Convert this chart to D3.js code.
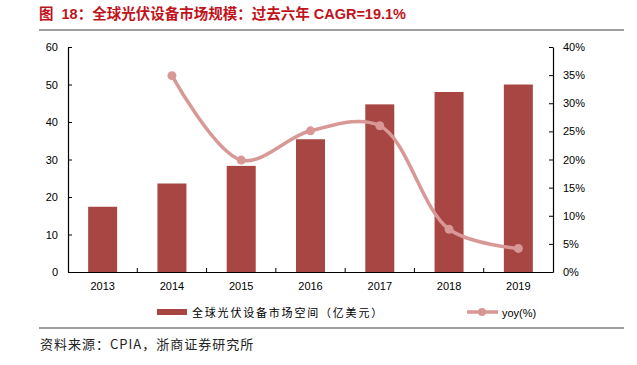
<!DOCTYPE html>
<html>
<head>
<meta charset="utf-8">
<script src="https://cdn.jsdelivr.net/npm/d3@7"></script>
<style>
  body { margin: 0; background: #fff; }
  text { font-family: "Liberation Sans", Arial, sans-serif; }
</style>
</head>
<body>
<div id="chart"></div>
<script>
const years = ["2013", "2014", "2015", "2016", "2017", "2018", "2019"];
const marketSize = [17.4, 23.6, 28.3, 35.4, 44.7, 48.0, 50.0];
const yoy = [null, 34.9, 19.9, 25.1, 26.0, 7.6, 4.2];
const leftTicks = [0, 10, 20, 30, 40, 50, 60];
const rightTicks = [0, 5, 10, 15, 20, 25, 30, 35, 40];

const svgWidth = 637, svgHeight = 365;
const margin = { top: 47, right: 84, bottom: 93, left: 68 };
const width = svgWidth - margin.left - margin.right;
const height = svgHeight - margin.top - margin.bottom;

const svg = d3.select("#chart").append("svg")
  .attr("width", svgWidth)
  .attr("height", svgHeight);

// title
svg.append("text")
  .attr("x", 39).attr("y", 19)
  .attr("fill", "#c0141c")
  .attr("font-size", 14.5)
  .attr("font-weight", "bold")
  .attr("xml:space", "preserve")
  .style("font-family", "'Liberation Sans', 'Noto Sans CJK SC', sans-serif")
  .style("white-space", "pre")
  .text("图  18：全球光伏设备市场规模：过去六年 CAGR=19.1%");

svg.append("line")
  .attr("x1", 39).attr("x2", 624).attr("y1", 30).attr("y2", 30)
  .attr("stroke", "#7f7f7f").attr("stroke-width", 1.5);

svg.append("line")
  .attr("x1", 39).attr("x2", 624).attr("y1", 328).attr("y2", 328)
  .attr("stroke", "#7f7f7f").attr("stroke-width", 1.5);

svg.append("text")
  .attr("x", 40).attr("y", 349)
  .attr("font-size", 13)
  .attr("fill", "#222")
  .attr("letter-spacing", 1)
  .style("font-family", "'Noto Sans CJK SC', sans-serif")
  .text("资料来源：CPIA，浙商证券研究所");

const chartGroup = svg.append("g")
  .attr("transform", `translate(${margin.left}, ${margin.top})`);

const xPoint = d3.scaleBand().domain(years).range([0, width]);
const yLeft = d3.scaleLinear().domain([0, 60]).range([height, 0]);
const yRight = d3.scaleLinear().domain([0, 40]).range([height, 0]);

// bars
chartGroup.selectAll("rect.bar")
  .data(marketSize)
  .enter()
  .append("rect")
  .attr("class", "bar")
  .attr("x", (d, i) => xPoint(years[i]) + xPoint.bandwidth() / 2 - 14.5)
  .attr("width", 29)
  .attr("y", d => yLeft(d))
  .attr("height", d => height - yLeft(d))
  .attr("fill", "#a84644");

// axes
const leftAxis = d3.axisLeft(yLeft).tickValues(leftTicks).tickSizeInner(-4).tickSizeOuter(0).tickPadding(10);
const rightAxis = d3.axisRight(yRight).tickValues(rightTicks).tickFormat(d => d + "%")
  .tickSizeInner(-4).tickSizeOuter(0).tickPadding(10);

const gl = chartGroup.append("g").call(leftAxis);
const gr = chartGroup.append("g").attr("transform", `translate(${width},0)`).call(rightAxis);

const gx = chartGroup.append("g").attr("transform", `translate(0,${height})`)
  .call(d3.axisBottom(xPoint).tickSize(0).tickPadding(10));

// inner tick marks between categories
chartGroup.selectAll("line.xtick")
  .data(years.slice(1))
  .enter()
  .append("line")
  .attr("class", "xtick")
  .attr("x1", d => xPoint(d)).attr("x2", d => xPoint(d))
  .attr("y1", height).attr("y2", height - 4)
  .attr("stroke", "#000");

[gl, gr, gx].forEach(g => {
  g.selectAll("path.domain").attr("stroke", "#000").attr("stroke-width", 1.2);
  g.selectAll("line").attr("stroke", "#000");
  g.selectAll("text").attr("font-size", 11).attr("fill", "#000")
    .style("font-family", "'Liberation Sans', Arial, sans-serif");
});

// yoy line
const yoyData = years.map((yr, i) => ({ yr, v: yoy[i] })).filter(d => d.v !== null);
const cx = d => xPoint(d.yr) + xPoint.bandwidth() / 2;

chartGroup.append("path")
  .datum(yoyData)
  .attr("fill", "none")
  .attr("stroke", "#d79896")
  .attr("stroke-width", 3.5)
  .attr("d", d3.line().x(cx).y(d => yRight(d.v)).curve(d3.curveCatmullRom.alpha(0.5)));

chartGroup.selectAll("circle.yoy")
  .data(yoyData)
  .enter()
  .append("circle")
  .attr("class", "yoy")
  .attr("cx", cx)
  .attr("cy", d => yRight(d.v))
  .attr("r", 4.5)
  .attr("fill", "#d79896");

// legend
const legend = svg.append("g");
legend.append("rect")
  .attr("x", 157).attr("y", 309).attr("width", 30).attr("height", 6)
  .attr("fill", "#a84644");
legend.append("text")
  .attr("x", 192).attr("y", 316.5)
  .attr("font-size", 11)
  .attr("letter-spacing", 1.8)
  .style("font-family", "'Noto Sans CJK SC', sans-serif")
  .text("全球光伏设备市场空间（亿美元）");

legend.append("line")
  .attr("x1", 467).attr("x2", 498).attr("y1", 312).attr("y2", 312)
  .attr("stroke", "#d79896").attr("stroke-width", 3.5);
legend.append("circle")
  .attr("cx", 482).attr("cy", 312).attr("r", 4)
  .attr("fill", "#d79896");
legend.append("text")
  .attr("x", 502).attr("y", 316.5)
  .attr("font-size", 11)
  .style("font-family", "'Liberation Sans', 'Noto Sans CJK SC', sans-serif")
  .text("yoy(%)");
</script>
</body>
</html>
